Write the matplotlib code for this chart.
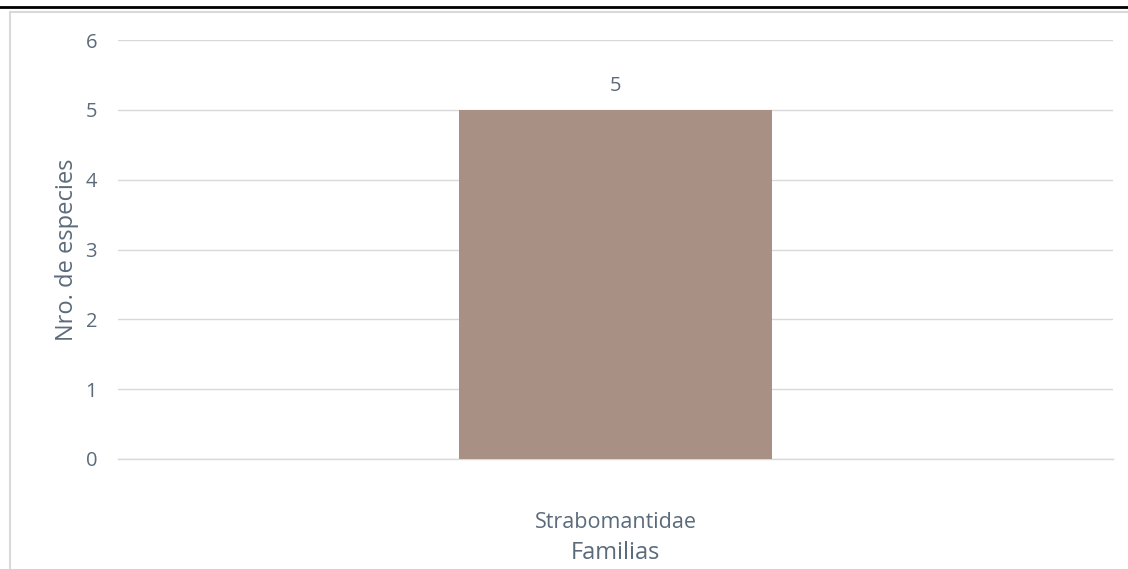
import matplotlib.pyplot as plt
from matplotlib.patches import Rectangle
from matplotlib.lines import Line2D

plt.rcParams['font.family'] = ['Open Sans', 'DejaVu Sans']

categories = ['Strabomantidae']
species_counts = [5]
y_ticks = [0, 1, 2, 3, 4, 5, 6]

text_color = '#5B6B7B'
bar_color = '#A89084'
grid_color = '#D9D9D9'

W, H = 1128, 569
fig = plt.figure(figsize=(W / 100, H / 100), dpi=100)

# black rule at top and light chart frame
fig.add_artist(Line2D([0, 1], [1 - 7 / H, 1 - 7 / H], color='black', lw=2))
fig.add_artist(Rectangle((10 / W, -0.1), 1.2, 1 - 12 / H + 0.1, fill=False,
                         edgecolor=grid_color, lw=1.5))

ax = fig.add_axes([118 / W, 1 - 459 / H, (1113 - 118) / W, (459 - 40) / H])
x = list(range(len(categories)))
bars = ax.bar(x, species_counts, width=0.315, color=bar_color, zorder=3)
for b, v in zip(bars, species_counts):
    ax.text(b.get_x() + b.get_width() / 2, v + 0.2, f'{v}', ha='center', va='bottom',
            fontsize=14.5, color=text_color)

ax.set_xlim(-0.5, 0.5)
ax.set_ylim(0, 6)
ax.set_yticks(y_ticks)
ax.set_xticks(x)
ax.set_xticklabels(categories, fontsize=15.5)
ax.grid(axis='y', color=grid_color, lw=1, zorder=0)
ax.axhline(0, color=grid_color, lw=1, zorder=1, clip_on=False)
for s in ax.spines.values():
    s.set_visible(False)
ax.tick_params(length=0, labelcolor=text_color)
ax.tick_params(axis='y', pad=15, labelsize=14.5)
ax.tick_params(axis='x', pad=38)
ax.set_ylabel('Nro. de especies', fontsize=17, color=text_color, labelpad=5)
ax.set_xlabel('Familias', fontsize=17, color=text_color, labelpad=6)

fig.savefig('out.png', dpi=100)
